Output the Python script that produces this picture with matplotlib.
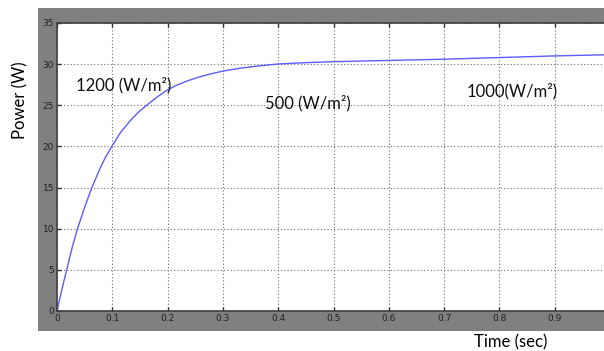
import matplotlib
matplotlib.use('Agg')
import matplotlib.pyplot as plt
from matplotlib.patches import Rectangle

# Values
time_s = [0, 0.005, 0.01, 0.0175, 0.027, 0.037, 0.05, 0.063, 0.078, 0.087, 0.099,
          0.115, 0.132, 0.147, 0.162, 0.18, 0.198, 0.215, 0.234, 0.255, 0.277,
          0.301, 0.331, 0.36, 0.4, 0.45, 0.5, 0.6, 0.7, 0.8, 0.9, 1.0]
power_w = [0, 1.5, 2.95, 5.0, 7.6, 10.0, 12.6, 15.0, 17.35, 18.6, 20.0,
           21.7, 23.1, 24.15, 25.0, 25.95, 26.8, 27.4, 27.92, 28.4, 28.8,
           29.17, 29.5, 29.75, 30.02, 30.18, 30.3, 30.45, 30.6, 30.8, 31.0, 31.15]

labels = ["1200 (W/m\u00b2)", "500 (W/m\u00b2)", "1000(W/m\u00b2)"]
label_xy = [(0.034, 27.5), (0.376, 25.3), (0.741, 26.7)]

W, H = 604, 351
fig = plt.figure(figsize=(W / 100, H / 100), dpi=100)
fig.patch.set_facecolor('white')

# gray panel behind the axes
fig.patches.append(Rectangle((38 / W, 1 - 331 / H), 1.0, (331 - 8) / H,
                             transform=fig.transFigure, facecolor='#808080',
                             edgecolor='none', zorder=-5))

ax = fig.add_axes([57 / W, 1 - 311 / H, (610 - 57) / W, (311 - 23) / H])
ax.set_zorder(1)
ax.set_facecolor('white')
ax.plot(time_s, power_w, color='#5c5cff', linewidth=1.0)

ax.set_xlim(0, 1)
ax.set_ylim(0, 35)
ax.set_xticks([0, 0.1, 0.2, 0.3, 0.4, 0.5, 0.6, 0.7, 0.8, 0.9])
ax.set_xticklabels(['0', '0.1', '0.2', '0.3', '0.4', '0.5', '0.6', '0.7', '0.8', '0.9'])
ax.set_yticks(range(0, 36, 5))
ax.tick_params(direction='in', length=3, width=1, colors='#303030',
               labelsize=6.5, top=True, right=True, pad=2)
ax.tick_params(axis='x', labelcolor='#202020')
ax.tick_params(axis='y', labelcolor='#202020')
ax.grid(True, linestyle=(0, (1, 2)), color='#707070', linewidth=0.8)
for s in ax.spines.values():
    s.set_color('#404040')
    s.set_linewidth(1.2)

for txt, (x, y) in zip(labels, label_xy):
    ax.text(x, y, txt, fontsize=12, family='Lato', color='#111111',
            va='center', ha='left')

fig.text(20 / W, 1 - 100 / H, 'Power (W)', rotation=90, fontsize=12,
         family='Lato', ha='center', va='center')
fig.text(511 / W, 1 - 342 / H, 'Time (sec)', fontsize=12,
         family='Lato', ha='center', va='center')

fig.savefig('out.png', dpi=100)
